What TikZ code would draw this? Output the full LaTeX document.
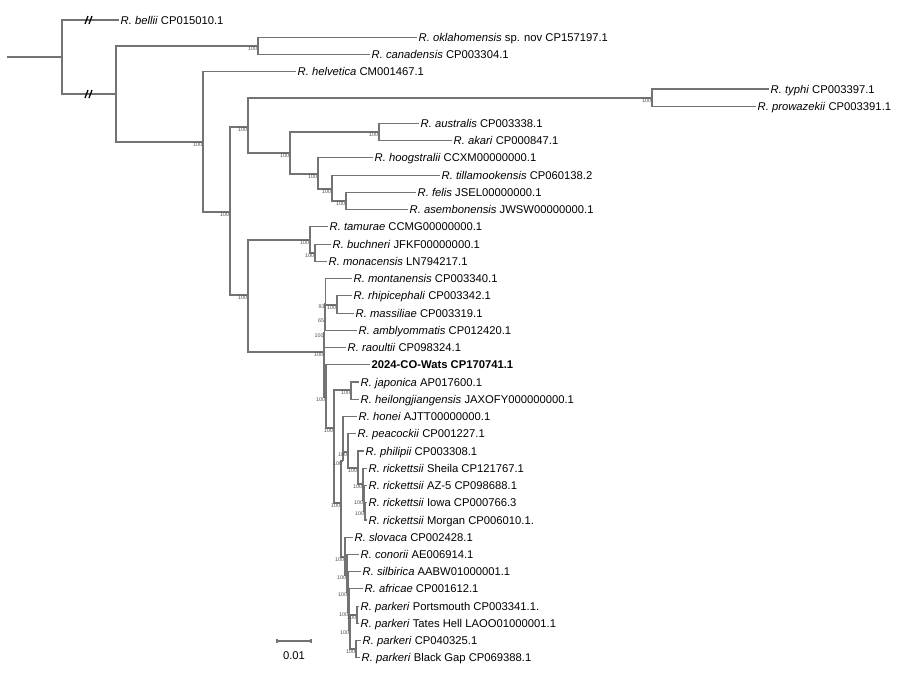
\documentclass[tikz,border=0pt]{standalone}
\usepackage{fontspec}
\setmainfont{Liberation Sans}

\tikzset{
  br/.style={draw=black!55, line width=0.8pt},
  tip/.style={anchor=west, inner sep=1pt, text height=5.8pt, text depth=0pt,
    font=\fontsize{8}{9}\selectfont},
  bs/.style={anchor=north east, inner sep=0.4pt, text height=2.8pt, text depth=0pt,
    font=\fontsize{3.8}{4}\selectfont, text=black!70},
  brk/.style={draw=black, line width=0.9pt},
}

\begin{document}
\begin{tikzpicture}[x=0.025cm,y=-0.025cm]
  \useasboundingbox (0,0) rectangle (900,673);

  % tips
  \node[tip] (bellii) at (119,20) {\textit{R. bellii} CP015010.1};
  \node[tip] (oklah) at (417,37.2) {\textit{R. oklahomensis} sp. nov CP157197.1};
  \node[tip] (canad) at (370,54.5) {\textit{R. canadensis} CP003304.1};
  \node[tip] (helve) at (296,71.7) {\textit{R. helvetica} CM001467.1};
  \node[tip] (typhi) at (769,89) {\textit{R. typhi} CP003397.1};
  \node[tip] (prowa) at (756,106.2) {\textit{R. prowazekii} CP003391.1};
  \node[tip] (austr) at (419,123.4) {\textit{R. australis} CP003338.1};
  \node[tip] (akari) at (452,140.7) {\textit{R. akari} CP000847.1};
  \node[tip] (hoogs) at (373,157.9) {\textit{R. hoogstralii} CCXM00000000.1};
  \node[tip] (tilla) at (440,175.2) {\textit{R. tillamookensis} CP060138.2};
  \node[tip] (felis) at (416,192.4) {\textit{R. felis} JSEL00000000.1};
  \node[tip] (asemb) at (408,209.6) {\textit{R. asembonensis} JWSW00000000.1};
  \node[tip] (tamur) at (328,226.9) {\textit{R. tamurae} CCMG00000000.1};
  \node[tip] (buchn) at (331,244.1) {\textit{R. buchneri} JFKF00000000.1};
  \node[tip] (monac) at (327,261.4) {\textit{R. monacensis} LN794217.1};
  \node[tip] (monta) at (352,278.6) {\textit{R. montanensis} CP003340.1};
  \node[tip] (rhipi) at (352,295.8) {\textit{R. rhipicephali} CP003342.1};
  \node[tip] (massi) at (354,313.1) {\textit{R. massiliae} CP003319.1};
  \node[tip] (ambly) at (357,330.3) {\textit{R. amblyommatis} CP012420.1};
  \node[tip] (raoul) at (346,347.6) {\textit{R. raoultii} CP098324.1};
  \node[tip] (wats) at (370,364.8) {\textbf{2024-CO-Wats CP170741.1}};
  \node[tip] (japon) at (359,382) {\textit{R. japonica} AP017600.1};
  \node[tip] (heilo) at (359,399.3) {\textit{R. heilongjiangensis} JAXOFY000000000.1};
  \node[tip] (honei) at (357,416.5) {\textit{R. honei} AJTT00000000.1};
  \node[tip] (peaco) at (356,433.8) {\textit{R. peacockii} CP001227.1};
  \node[tip] (phili) at (364,451) {\textit{R. philipii} CP003308.1};
  \node[tip] (rsheil) at (367,468.2) {\textit{R. rickettsii} Sheila CP121767.1};
  \node[tip] (raz) at (367,485.5) {\textit{R. rickettsii} AZ-5 CP098688.1};
  \node[tip] (riowa) at (367,502.7) {\textit{R. rickettsii} Iowa CP000766.3};
  \node[tip] (rmorg) at (367,520) {\textit{R. rickettsii} Morgan CP006010.1.};
  \node[tip] (slova) at (353,537.2) {\textit{R. slovaca} CP002428.1};
  \node[tip] (conor) at (359,554.4) {\textit{R. conorii} AE006914.1};
  \node[tip] (silbi) at (361,571.7) {\textit{R. silbirica} AABW01000001.1};
  \node[tip] (afric) at (363,588.9) {\textit{R. africae} CP001612.1};
  \node[tip] (pport) at (359,606.2) {\textit{R. parkeri} Portsmouth CP003341.1.};
  \node[tip] (ptate) at (359,623.4) {\textit{R. parkeri} Tates Hell LAOO01000001.1};
  \node[tip] (pcp04) at (361,640.6) {\textit{R. parkeri} CP040325.1};
  \node[tip] (pblack) at (360,657.9) {\textit{R. parkeri} Black Gap CP069388.1};

  % inner nodes
  \coordinate (base) at (7,57);
  \coordinate (root) at (62,57);
  \coordinate (n1) at (116,94);
  \coordinate (n2) at (258,46);
  \coordinate (n3) at (203,142);
  \coordinate (n4) at (230,212);
  \coordinate (n5) at (248,127);
  \coordinate (n6) at (248,295);
  \coordinate (n7) at (652,98);
  \coordinate (n8) at (290,153);
  \coordinate (n9) at (379,132);
  \coordinate (n10) at (318,174);
  \coordinate (n11) at (332,189);
  \coordinate (n12) at (346,201);
  \coordinate (n13) at (310,240);
  \coordinate (n14) at (315,253);
  \coordinate (nsfg) at (324,352);
  \coordinate (nu) at (324.5,333);
  \coordinate (n65) at (325,318);
  \coordinate (n93) at (325.5,304);
  \coordinate (nrm) at (337,305);
  \coordinate (nl1) at (326,397);
  \coordinate (nl2) at (334,428);
  \coordinate (njh) at (351,390);
  \coordinate (nl3) at (341,503);
  \coordinate (na) at (343,461);
  \coordinate (nl4) at (348,452);
  \coordinate (npr) at (358,468);
  \coordinate (nr1) at (363,484);
  \coordinate (nr2) at (364,500);
  \coordinate (nr3) at (365,511);
  \coordinate (nb) at (345,557);
  \coordinate (nc) at (347,575);
  \coordinate (nd) at (348,592);
  \coordinate (ne) at (349,612);
  \coordinate (nf) at (350,630);
  \coordinate (npt) at (357,615);
  \coordinate (npb) at (356,649);

  % branches
  \draw[br] (base) -- (root) (root) |- (bellii.west) (root) |- (n1);
  \draw[br] (n1) |- (n2) (n1) |- (n3);
  \draw[br] (n2) |- (oklah.west) (n2) |- (canad.west);
  \draw[br] (n3) |- (helve.west) (n3) |- (n4);
  \draw[br] (n4) |- (n5) (n4) |- (n6);
  \draw[br] (n5) |- (n7) (n5) |- (n8);
  \draw[br] (n7) |- (typhi.west) (n7) |- (prowa.west);
  \draw[br] (n8) |- (n9) (n8) |- (n10);
  \draw[br] (n9) |- (austr.west) (n9) |- (akari.west);
  \draw[br] (n10) |- (hoogs.west) (n10) |- (n11);
  \draw[br] (n11) |- (tilla.west) (n11) |- (n12);
  \draw[br] (n12) |- (felis.west) (n12) |- (asemb.west);
  \draw[br] (n6) |- (n13) (n6) |- (nsfg);
  \draw[br] (n13) |- (tamur.west) (n13) |- (n14);
  \draw[br] (n14) |- (buchn.west) (n14) |- (monac.west);
  \draw[br] (nsfg) |- (nu) (nsfg) |- (nl1);
  \draw[br] (nu) |- (n65) (nu) |- (raoul.west);
  \draw[br] (n65) |- (n93) (n65) |- (ambly.west);
  \draw[br] (n93) |- (monta.west) (n93) |- (nrm);
  \draw[br] (nrm) |- (rhipi.west) (nrm) |- (massi.west);
  \draw[br] (nl1) |- (wats.west) (nl1) |- (nl2);
  \draw[br] (nl2) |- (njh) (nl2) |- (nl3);
  \draw[br] (njh) |- (japon.west) (njh) |- (heilo.west);
  \draw[br] (nl3) |- (na) (nl3) |- (nb);
  \draw[br] (na) |- (honei.west) (na) |- (nl4);
  \draw[br] (nl4) |- (peaco.west) (nl4) |- (npr);
  \draw[br] (npr) |- (phili.west) (npr) |- (nr1);
  \draw[br] (nr1) |- (rsheil.west) (nr1) |- (nr2);
  \draw[br] (nr2) |- (raz.west) (nr2) |- (nr3);
  \draw[br] (nr3) |- (riowa.west) (nr3) |- (rmorg.west);
  \draw[br] (nb) |- (slova.west) (nb) |- (nc);
  \draw[br] (nc) |- (conor.west) (nc) |- (nd);
  \draw[br] (nd) |- (silbi.west) (nd) |- (ne);
  \draw[br] (ne) |- (afric.west) (ne) |- (nf);
  \draw[br] (nf) |- (npt) (nf) |- (npb);
  \draw[br] (npt) |- (pport.west) (npt) |- (ptate.west);
  \draw[br] (npb) |- (pcp04.west) (npb) |- (pblack.west);

  % break marks
  \draw[brk] (85,24) -- (88,16) (89,24) -- (92,16);
  \draw[brk] (85,98) -- (88,90) (89,98) -- (92,90);

  % bootstrap values
  \node[bs] (b2) at (n2) {100};
  \node[bs] (b3) at (n3) {100};
  \node[bs] (b4) at (n4) {100};
  \node[bs] (b5) at (n5) {100};
  \node[bs] (b6) at (n6) {100};
  \node[bs] (b7) at (n7) {100};
  \node[bs] (b8) at (n8) {100};
  \node[bs] (b9) at (n9) {100};
  \node[bs] (b10) at (n10) {100};
  \node[bs] (b11) at (n11) {100};
  \node[bs] (b12) at (n12) {100};
  \node[bs] (b13) at (n13) {100};
  \node[bs] (b14) at (n14) {100};
  \node[bs] (bsfg) at (nsfg) {100};
  \node[bs] (bu) at (nu) {100};
  \node[bs] (b65) at (n65) {65};
  \node[bs] (b93) at (n93) {93};
  \node[bs] (brm) at (nrm) {100};
  \node[bs] (bl1) at (nl1) {100};
  \node[bs] (bl2) at (nl2) {100};
  \node[bs] (bjh) at (njh) {100};
  \node[bs] (bl3) at (nl3) {100};
  \node[bs] (ba) at (na) {100};
  \node[bs] (bl4) at (nl4) {100};
  \node[bs] (bpr) at (npr) {100};
  \node[bs] (br1) at (nr1) {100};
  \node[bs] (br2) at (nr2) {100};
  \node[bs] (br3) at (nr3) {100};
  \node[bs] (bb) at (nb) {100};
  \node[bs] (bc) at (nc) {100};
  \node[bs] (bd) at (nd) {100};
  \node[bs] (be) at (ne) {100};
  \node[bs] (bf) at (nf) {100};
  \node[bs] (bpt) at (npt) {100};
  \node[bs] (bpb) at (npb) {100};

  % scale bar
  \coordinate (sbl) at (277,641);
  \coordinate (sbr) at (311,641);
  \draw[br] (sbl) -- (sbr);
  \draw[br] (sbl) ++(0,-2) -- ++(0,4);
  \draw[br] (sbr) ++(0,-2) -- ++(0,4);
  \node[tip, anchor=center] (sblab) at (294,655) {0.01};
\end{tikzpicture}
\end{document}
